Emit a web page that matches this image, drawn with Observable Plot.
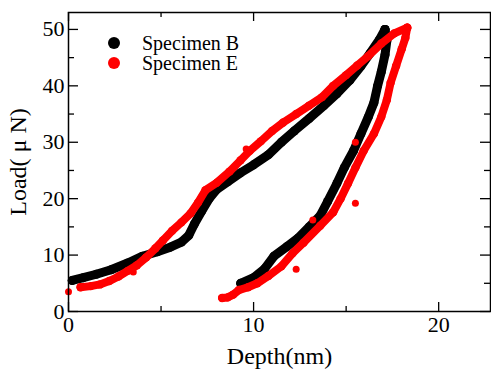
<!DOCTYPE html>
<html>
<head>
<meta charset="utf-8">
<script src="https://cdn.jsdelivr.net/npm/d3@7"></script>
<script src="https://cdn.jsdelivr.net/npm/@observablehq/plot@0.6"></script>
<style>
  body { margin: 0; background: #fff; }
  #wrap { position: relative; width: 491px; height: 370px; font-family: 'Liberation Serif', serif; }
  .leg { position: absolute; left: 106px; font-size: 20px; line-height: 20px; font-family: 'Liberation Serif', serif; }
  .leg span.dot { position: absolute; left: 2px; top: 4px; width: 12px; height: 12px; border-radius: 50%; }
  .leg span.txt { position: absolute; left: 36px; top: 0; white-space: nowrap; font-family: 'Liberation Serif', serif; }
</style>
</head>
<body>
<div id="wrap"></div>
<script>
// Depth (nm), Load (uN) pairs
const specimenB_loading = [[0.2,5.5],[0.8,6.0],[1.5,6.6],[2.3,7.4],[3.2,8.6],[4.0,9.8],[4.8,10.6],[5.5,11.4],[6.1,12.3],[6.5,13.5],[6.8,15.5],[7.2,17.8],[7.6,20.0],[8.0,21.6],[8.6,23.0],[9.3,24.6],[10.0,26.0],[10.8,27.8],[11.5,30.0],[12.2,32.0],[13.0,34.2],[13.8,36.5],[14.5,38.6],[15.2,41.0],[15.8,43.5],[16.3,45.8],[16.8,48.2],[17.1,50.0]];
const specimenB_unloading = [[17.1,50.0],[17.2,48.0],[17.1,45.5],[16.9,42.5],[16.7,40.0],[16.5,37.0],[16.2,34.5],[15.8,31.5],[15.4,28.5],[14.9,25.5],[14.5,22.7],[14.0,19.5],[13.6,17.0],[13.0,15.0],[12.4,13.0],[11.8,11.5],[11.1,9.8],[10.6,7.6],[10.0,6.0],[9.3,5.0]];
const specimenE_loading = [[0.65,4.3],[1.2,4.5],[1.7,4.8],[2.2,5.4],[2.7,6.2],[3.2,7.2],[3.7,8.2],[4.2,9.6],[4.7,11.2],[5.1,12.6],[5.6,14.3],[6.1,15.8],[6.6,17.4],[7.0,19.3],[7.4,21.5],[8.0,22.8],[8.7,24.8],[9.3,26.8],[9.8,28.5],[10.4,30.2],[11.0,32.0],[11.6,33.5],[12.3,35.0],[13.0,36.5],[13.7,38.0],[14.3,40.0],[15.0,41.9],[15.6,43.6],[16.2,45.3],[16.9,47.5],[17.6,49.3],[18.3,50.3]];
const specimenE_unloading = [[18.3,50.3],[18.2,48.5],[18.0,46.5],[17.7,43.5],[17.4,40.5],[17.2,37.5],[16.9,34.5],[16.5,31.5],[15.95,28.5],[15.5,25.5],[15.1,22.7],[14.7,20.0],[14.3,17.6],[13.6,15.2],[12.7,12.2],[12.1,10.3],[11.5,8.0],[10.8,6.3],[10.2,5.0],[9.7,4.3],[9.2,3.8],[8.9,3.0],[8.6,2.5],[8.3,2.4]];
const specimenE_outliers = [[0,3.5],[3.5,7.0],[15.5,19.2],[12.3,7.5],[13.2,16.2],[15.5,30.0],[9.6,28.8]];
const xMajorTicks = [0, 10, 20];
const xMinorTicks = [5, 15];
const yMajorTicks = [0, 10, 20, 30, 40, 50];
const yMinorTicks = [5, 15, 25, 35, 45];
const seriesNames = ["Specimen B", "Specimen E"];
const seriesColors = ["#000000", "#ff0000"];

const W = 491, H = 370, mL = 68, mR = 1, mT = 12, mB = 59;
const fw = W - mL - mR, fh = H - mT - mB;
const font = "'Liberation Serif', serif";
const pt = d => ({x: d[0], y: d[1]});

const band = (data, color, sw) => Plot.line(data.map(pt), {x: "x", y: "y", stroke: color, strokeWidth: sw, strokeLinejoin: "round", strokeLinecap: "round"});
const dots = (data, color, r) => Plot.dot(data.map(pt), {x: "x", y: "y", fill: color, r});

const chart = Plot.plot({
  width: W, height: H,
  marginLeft: mL, marginRight: mR, marginTop: mT, marginBottom: mB,
  style: {fontFamily: font, color: "#000", background: "#fff", overflow: "visible"},
  x: {domain: [0, 22.8]},
  y: {domain: [0, 53]},
  marks: [
    band(specimenB_loading, seriesColors[0], 9),
    band(specimenB_unloading, seriesColors[0], 9),
    dots(specimenB_loading, seriesColors[0], 4.5),
    dots(specimenB_unloading, seriesColors[0], 4.5),
    band(specimenE_loading, seriesColors[1], 8),
    band(specimenE_unloading, seriesColors[1], 8),
    dots(specimenE_loading, seriesColors[1], 4.2),
    dots(specimenE_unloading, seriesColors[1], 4.2),
    dots(specimenE_outliers, seriesColors[1], 3.5),
    // inward ticks
    Plot.ruleX(xMajorTicks, {insetTop: fh - 9, strokeWidth: 1.3}),
    Plot.ruleX(xMinorTicks, {insetTop: fh - 5, strokeWidth: 1.3}),
    Plot.ruleX(xMajorTicks, {insetBottom: fh - 9, strokeWidth: 1.3}),
    Plot.ruleX(xMinorTicks, {insetBottom: fh - 5, strokeWidth: 1.3}),
    Plot.ruleY(yMajorTicks, {insetRight: fw - 10, strokeWidth: 1.3}),
    Plot.ruleY(yMinorTicks, {insetRight: fw - 6, strokeWidth: 1.3}),
    Plot.ruleY(yMajorTicks, {insetLeft: fw - 10, strokeWidth: 1.3}),
    Plot.ruleY(yMinorTicks, {insetLeft: fw - 6, strokeWidth: 1.3}),
    Plot.frame({stroke: "#000", strokeWidth: 1.5}),
    Plot.axisX({ticks: xMajorTicks, tickSize: 0, tickPadding: 5, fontSize: 22, label: null}),
    Plot.axisY({ticks: yMajorTicks, tickSize: 0, tickPadding: 4, fontSize: 22, label: null}),
    Plot.axisX({ticks: [], label: "Depth(nm)", labelAnchor: "center", labelArrow: "none", labelOffset: 52, fontSize: 24}),
    Plot.axisY({ticks: [], label: "Load( \u03bc N)", labelAnchor: "center", labelArrow: "none", labelOffset: 60, fontSize: 24})
  ]
});

d3.select(chart).selectAll("text").style("font-family", font);
d3.select(chart).selectAll("g").style("font-family", font);

const wrap = document.getElementById("wrap");
wrap.appendChild(chart);
const legTops = [33, 53];
seriesNames.forEach((name, i) => {
  const d = document.createElement("div");
  d.className = "leg";
  d.style.top = legTops[i] + "px";
  d.innerHTML = `<span class="dot" style="background:${seriesColors[i]}"></span><span class="txt">${name}</span>`;
  wrap.appendChild(d);
});
</script>
</body>
</html>
